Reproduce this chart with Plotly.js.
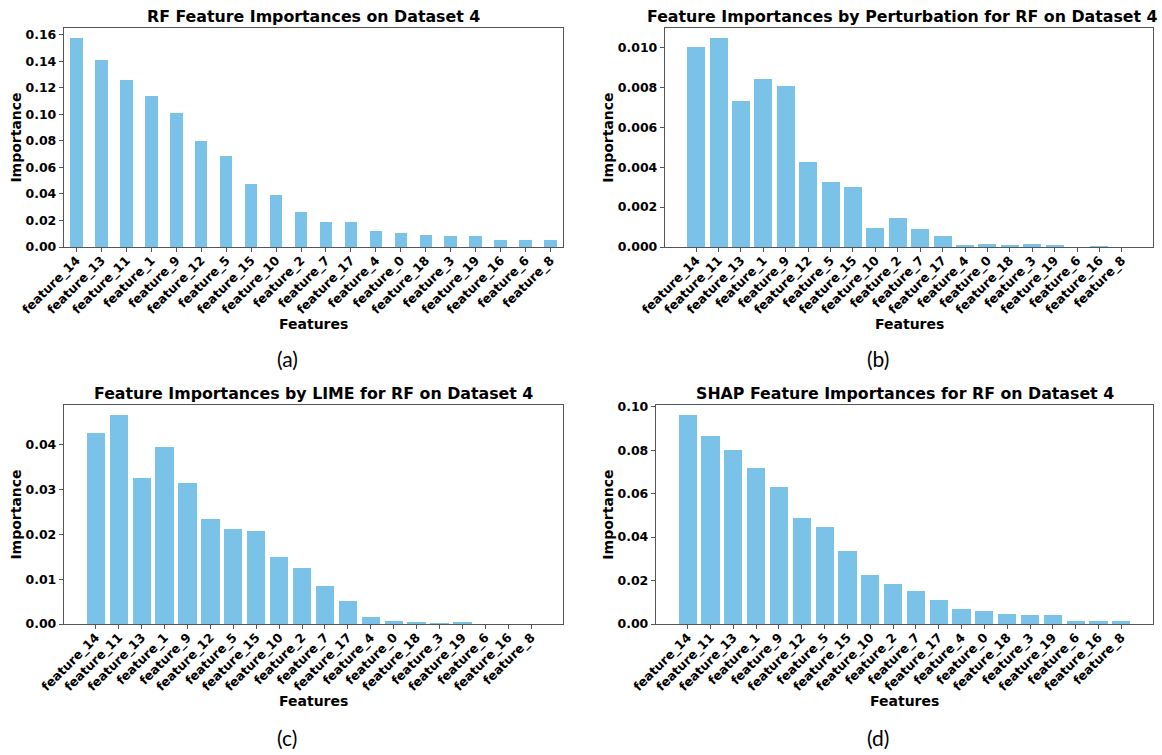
<!DOCTYPE html>
<html>
<head>
<meta charset="utf-8">
<script src="https://cdn.plot.ly/plotly-3.0.1.min.js"></script>
<style>html,body{margin:0;padding:0;background:#fff;}#chart{width:1162px;height:755px;}</style>
</head>
<body>
<div id="chart"></div>
<script>
// ---- Data ----
const categoriesA = ['feature_14','feature_13','feature_11','feature_1','feature_9','feature_12','feature_5','feature_15','feature_10','feature_2','feature_7','feature_17','feature_4','feature_0','feature_18','feature_3','feature_19','feature_16','feature_6','feature_8'];
const categoriesBCD = ['feature_14','feature_11','feature_13','feature_1','feature_9','feature_12','feature_5','feature_15','feature_10','feature_2','feature_7','feature_17','feature_4','feature_0','feature_18','feature_3','feature_19','feature_6','feature_16','feature_8'];

const rfImportance = [0.1572,0.1407,0.1261,0.1136,0.1013,0.0797,0.0687,0.0476,0.0394,0.0263,0.0188,0.0186,0.0120,0.0103,0.0093,0.0085,0.0080,0.0055,0.0053,0.0053];
const perturbationImportance = [0.0100,0.01045,0.00732,0.00844,0.00805,0.00428,0.00324,0.00303,0.00095,0.00145,0.00088,0.00053,0.00012,0.00015,0.00011,0.00015,0.00008,0.0,0.00004,0.0];
const limeImportance = [0.0427,0.0466,0.0326,0.0396,0.0315,0.0235,0.0212,0.0207,0.0150,0.0126,0.0085,0.0051,0.0016,0.0006,0.00045,0.0003,0.00045,0.0,0.0,0.0];
const shapImportance = [0.0962,0.0865,0.0799,0.0716,0.0632,0.0486,0.0448,0.0336,0.0224,0.0186,0.0153,0.0110,0.0068,0.0058,0.0046,0.0043,0.0041,0.0015,0.0015,0.0012];

const titles = ['RF Feature Importances on Dataset 4','Feature Importances by Perturbation for RF on Dataset 4','Feature Importances by LIME for RF on Dataset 4','SHAP Feature Importances for RF on Dataset 4'];
const captions = ['(a)','(b)','(c)','(d)'];
const xTitle = 'Features';
const yTitle = 'Importance';

// ---- Styling ----
const W = 1162, H = 755;
const barColor = '#7ac2e7';
const frameColor = '#555555';
const fam = 'DejaVu Sans';
const px = v => v / W;
const py = v => 1 - v / H;

// panel pixel boxes [left, right, top, bottom]
const boxes = [[64,563,28,247],[665,1153,28,247],[64,563,405,624],[656,1153,405,624]];
// title placement [x, anchor]
const titlePos = [[313.5,'center'],[1160,'right'],[313.5,'center'],[904.5,'center']];
const xTitlePos = [[313,324],[909,324],[313,701],[904,701]];

const traces = [
  {x: categoriesA, y: rfImportance, width: 0.5},
  {x: categoriesBCD, y: perturbationImportance, width: 0.8},
  {x: categoriesBCD, y: limeImportance, width: 0.8},
  {x: categoriesBCD, y: shapImportance, width: 0.8}
].map((t, i) => ({
  type: 'bar', x: t.x, y: t.y, width: t.width,
  xaxis: i === 0 ? 'x' : 'x' + (i + 1),
  yaxis: i === 0 ? 'y' : 'y' + (i + 1),
  marker: {color: barColor, line: {width: 0}},
  hoverinfo: 'x+y', showlegend: false
}));

const yRanges = [[0,0.165],[0,0.01097],[0,0.0489],[0,0.1008]];
const yDticks = [0.02,0.002,0.01,0.02];
const yFormats = ['.2f','.3f','.2f','.2f'];
const xRanges = [[-0.5,19.5],[-1.39,20.39],[-1.39,20.39],[-1.39,20.39]];

const layout = {
  width: W, height: H,
  margin: {l:0, r:0, t:0, b:0},
  paper_bgcolor: '#ffffff', plot_bgcolor: '#ffffff',
  font: {family: fam, color: '#000', size: 12},
  bargap: 0,
  annotations: [], showlegend: false
};

boxes.forEach((b, i) => {
  const s = i === 0 ? '' : String(i + 1);
  layout['xaxis' + s] = {
    domain: [px(b[0]), px(b[1])], anchor: 'y' + s,
    type: 'category', range: xRanges[i],
    tickangle: -45, ticks: 'outside', ticklen: 4, tickcolor: frameColor,
    ticklabelstandoff: -4,
    tickfont: {family: fam, size: 12.5, weight: 'bold', color: '#000'},
    showline: true, mirror: true, linecolor: frameColor, linewidth: 1.2,
    showgrid: false, zeroline: false, fixedrange: true
  };
  layout['yaxis' + s] = {
    domain: [py(b[3]), py(b[2])], anchor: 'x' + s,
    range: yRanges[i], dtick: yDticks[i], tick0: 0, tickformat: yFormats[i],
    ticks: 'outside', ticklen: 4, tickcolor: frameColor,
    tickfont: {family: fam, size: 12.5, weight: 'bold', color: '#000'},
    showline: true, mirror: true, linecolor: frameColor, linewidth: 1.2,
    showgrid: false, zeroline: false, fixedrange: true,
    title: {text: yTitle, font: {family: fam, size: 14, weight: 'bold'}, standoff: 0}
  };
  layout.annotations.push({
    text: titles[i], xref: 'paper', yref: 'paper',
    x: px(titlePos[i][0]), y: py(b[2] - 11), xanchor: titlePos[i][1], yanchor: 'middle',
    showarrow: false, font: {family: fam, size: 15.8, weight: 'bold', color: '#000'}
  });
  layout.annotations.push({
    text: xTitle, xref: 'paper', yref: 'paper',
    x: px(xTitlePos[i][0]), y: py(xTitlePos[i][1]), xanchor: 'center', yanchor: 'middle',
    showarrow: false, font: {family: fam, size: 14, weight: 'bold', color: '#000'}
  });
});

const capPos = [[287,358],[878,358],[287,737],[878,737]];
capPos.forEach((c, i) => {
  layout.annotations.push({
    text: captions[i], xref: 'paper', yref: 'paper',
    x: px(c[0]), y: py(c[1]), xanchor: 'center', yanchor: 'middle',
    showarrow: false, font: {family: 'Lato', size: 21, color: '#000'}
  });
});

Plotly.newPlot('chart', traces, layout, {displayModeBar: false, staticPlot: true});
</script>
</body>
</html>
